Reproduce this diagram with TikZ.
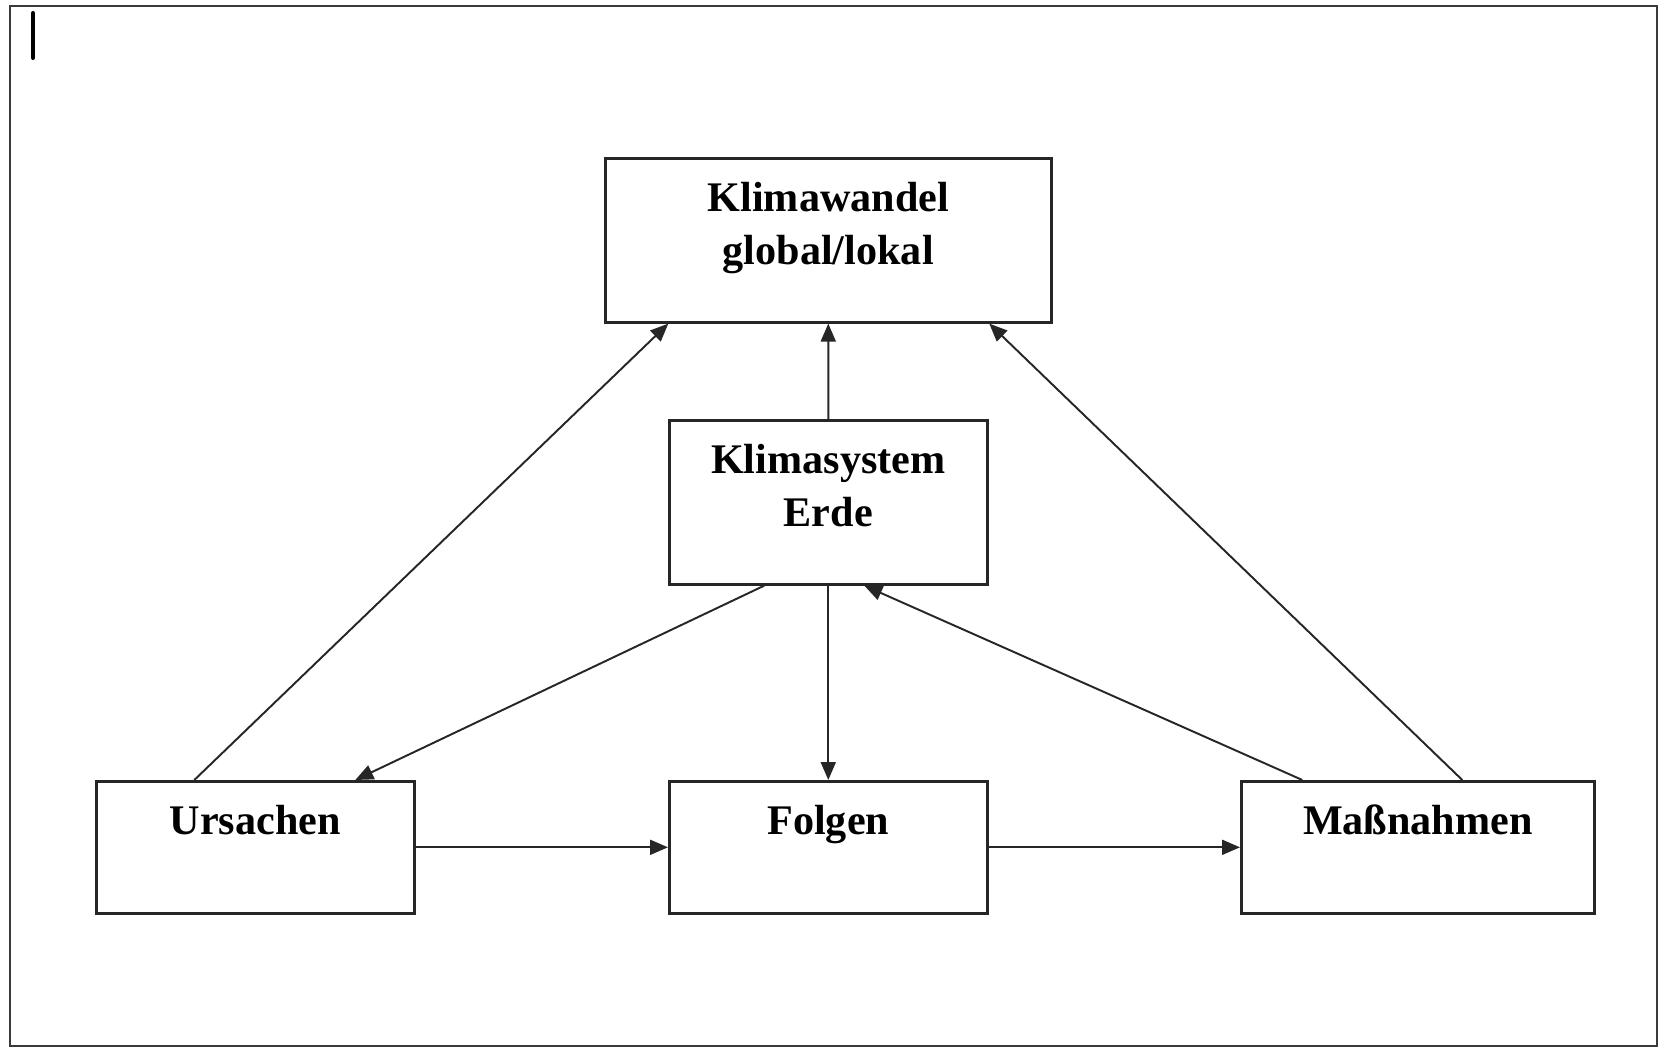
\documentclass[tikz,border=0pt]{standalone}
\usepackage{fontspec}
\setmainfont{Liberation Serif}
\usetikzlibrary{arrows.meta}
\definecolor{kwFrame}{HTML}{3A3A3A}
\tikzset{
  kw frame/.style={draw=kwFrame, line width=1.6pt},
  kw box/.style={draw=black!85, line width=1.5pt, inner sep=0pt, anchor=north west, align=center,
    font=\bfseries\fontsize{24}{30}\selectfont},
  kw tall/.style={kw box, text height=2.12cm, text depth=1.16cm},
  kw flat/.style={kw box, text height=1.06cm, text depth=1.58cm},
  kw arrow/.style={draw=black!85, line width=1.1pt, -{Triangle[length=3.6mm, width=3mm]}},
}

\begin{document}
\begin{tikzpicture}[x=0.02cm, y=-0.02cm]
  \useasboundingbox (0,0) rectangle (1665,1050);

  % outer frame and the stray cursor mark
  \draw[kw frame] (10,6) rectangle (1657,1046);
  \draw[line width=2.3pt, line cap=round] (33,13) -- (33,58);

  % boxes
  \node[kw tall, minimum width=8.92cm] (wandel) at (604,157) {Klimawandel\\global/lokal};
  \node[kw tall, minimum width=6.36cm] (system) at (668,419) {Klimasystem\\Erde};
  \node[kw flat, minimum width=6.36cm] (ursachen) at (95,780) {Ursachen};
  \node[kw flat, minimum width=6.36cm] (folgen) at (668,780) {Folgen};
  \node[kw flat, minimum width=7.06cm] (massnahmen) at (1240,780) {Maßnahmen};

  % connectors
  \draw[kw arrow] ([xshift=-1.22cm]ursachen.north) -- ([xshift=-3.2cm]wandel.south);
  \draw[kw arrow] (system.north) -- (wandel.south);
  \draw[kw arrow] ([xshift=0.89cm]massnahmen.north) -- ([xshift=3.22cm]wandel.south);
  \draw[kw arrow] ([xshift=-1.28cm]system.south) -- ([xshift=2cm]ursachen.north);
  \draw[kw arrow] (system.south) -- (folgen.north);
  \draw[kw arrow] ([xshift=-2.31cm]massnahmen.north) -- ([xshift=0.72cm]system.south);
  \draw[kw arrow] (ursachen.east) -- (folgen.west);
  \draw[kw arrow] (folgen.east) -- (massnahmen.west);
\end{tikzpicture}
\end{document}
